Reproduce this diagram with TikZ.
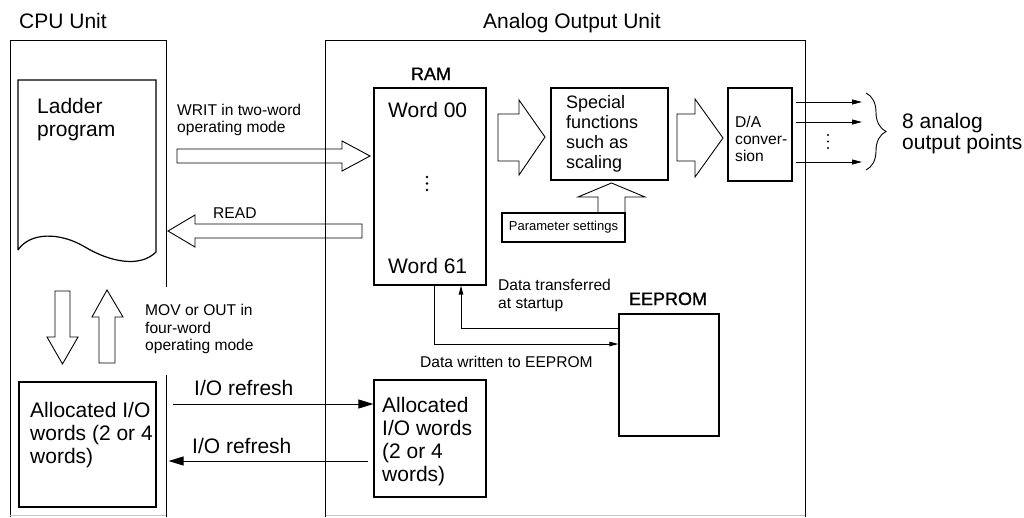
\documentclass[tikz,border=0pt]{standalone}
\usepackage{fontspec}
\setmainfont{Liberation Sans}
\newfontfamily\semibfont{Liberation Sans}[FakeBold=1.2]
\usepackage{tikz}
\usetikzlibrary{arrows.meta,positioning,calc,decorations.pathreplacing}
\tikzset{
 frame/.style={draw=black,line width=0.9pt},
 unit/.style={draw=black,line width=1.2pt,inner sep=0pt},
 fat/.style={draw=black,line width=0.9pt,line join=miter},
 big/.style={font=\fontsize{21}{23}\selectfont,inner sep=0pt,align=left},
 mid/.style={font=\fontsize{18}{20}\selectfont,inner sep=0pt,align=left},
 memlbl/.style={font=\semibfont\fontsize{18}{20}\selectfont,inner sep=0pt},
 small/.style={font=\fontsize{15.6}{17.5}\selectfont,inner sep=0pt,align=left},
 tiny/.style={font=\fontsize{13}{15}\selectfont,inner sep=0pt},
 iarr/.style={-{Triangle[length=15pt,width=9pt]},line width=1pt},
 oarr/.style={-{Triangle[length=10pt,width=5pt]},line width=0.9pt},
 darr/.style={-{Triangle[length=9pt,width=4.5pt]},line width=0.9pt}
}
\begin{document}
\begin{tikzpicture}[x=1pt,y=-1pt]
\useasboundingbox (0,0) rectangle (1024,517);
% unit frames
\draw[frame] (10,517) -- (10,40) -- (166,40) -- (166,287);
\draw[frame] (166,375) -- (166,517);
\draw[gray!45,line width=0.8pt] (10,515) -- (166,515) (325,515) -- (805,515);
\draw[frame] (325,517) -- (325,40) -- (805,40) -- (805,517);
\node[big,anchor=base west] (cputitle) at (19,28) {CPU Unit};
\node[big,anchor=base west] (aoutitle) at (483,28) {Analog Output Unit};
% ladder program sheet
\draw[unit] (18,250) -- (18,80) -- (156,80) -- (156,252)
  .. controls (140,268) and (110,262) .. (85,247)
  .. controls (60,232) and (30,232) .. (18,250);
\node[big,anchor=north west] (ladder) at (37,98) {Ladder\\program};
% memory and processing blocks
\node[unit,minimum width=112,minimum height=197] (ram) at (430,186.5) {};
\node[memlbl,anchor=base] (ramlbl) at (431,80) {RAM};
\node[big,anchor=base west] (w00) at (388,117) {Word 00};
\node[big,anchor=base west] (w61) at (388,273) {Word 61};
\fill (427,177) circle (1.3) (427,183.5) circle (1.3) (427,190) circle (1.3);
\node[unit,minimum width=117,minimum height=92] (spec) at (609.5,134) {};
\node[mid,anchor=north west] (spectxt) at (566,95) {Special\\functions\\such as\\scaling};
\node[unit,minimum width=64,minimum height=93] (da) at (760,134.5) {};
\node[small,anchor=north west,font=\fontsize{15.6}{17}\selectfont] (datxt) at (735,116) {D/A\\conver-\\sion};
\node[unit,tiny,minimum width=123,minimum height=29] (parm) at (563.5,227.5) {Parameter settings};
\node[unit,minimum width=100,minimum height=122] (eeprom) at (669,375) {};
\node[memlbl,anchor=base] (eelbl) at (668,305) {EEPROM};
\node[unit,minimum width=137,minimum height=125] (io1) at (87.5,444.5) {};
\node[big,anchor=north west] (io1txt) at (30,402) {Allocated I/O\\words (2 or 4\\words)};
\node[unit,minimum width=112,minimum height=117] (io2) at (430,438.5) {};
\node[big,anchor=north west] (io2txt) at (382,397) {Allocated\\I/O words\\(2 or 4\\words)};
% block arrows
\draw[fat] (177,149) -- (342,149) -- (342,141) -- (370,156) -- (342,171) -- (342,163) -- (177,163) -- cycle;
\node[small,anchor=north west,font=\fontsize{15.6}{17}\selectfont] (writ) at (177,104) {WRIT in two-word\\operating mode};
\draw[fat] (362,224) -- (195,224) -- (195,215) -- (168,231) -- (195,247) -- (195,238) -- (362,238) -- cycle;
\node[small,anchor=base west] (read) at (213,218) {READ};
\draw[fat] (498,114) -- (519,114) -- (519,100) -- (545,137) -- (519,175) -- (519,161) -- (498,161) -- cycle;
\draw[fat] (677,114) -- (695,114) -- (695,99) -- (723,138) -- (695,177) -- (695,161) -- (677,161) -- cycle;
\draw[fat] (598,213) -- (598,197) -- (578,197) -- (611.5,183) -- (645,197) -- (625,197) -- (625,213);
\draw[fat] (55,291) -- (55,337) -- (47,337) -- (62.5,364) -- (78,337) -- (70,337) -- (70,291) -- cycle;
\draw[fat] (99,363) -- (99,317) -- (92,317) -- (107,290) -- (123,317) -- (115,317) -- (115,363) -- cycle;
\node[small,anchor=north west] (mov) at (145,304) {MOV or OUT in\\four-word\\operating mode};
% analog outputs
\coordinate (o1) at (862,102);
\coordinate (o2) at (862,122);
\coordinate (o3) at (862,162);
\draw[oarr] ([xshift=3]da.east |- o1) -- (o1);
\draw[oarr] ([xshift=3]da.east |- o2) -- (o2);
\draw[oarr] ([xshift=3]da.east |- o3) -- (o3);
\fill (828,135) circle (1.2) (828,141.5) circle (1.2) (828,148) circle (1.2);
\draw[line width=0.9pt,decorate,decoration={brace,amplitude=20pt}] (866,93) -- (866,170);
\node[big,anchor=north west,font=\fontsize{21}{21}\selectfont] (outs) at (902,113) {8 analog\\output points};
% EEPROM transfers
\coordinate (tr) at (461,328);
\coordinate (wr) at (434,344);
\draw[darr] (eeprom.west |- tr) -- (tr) -- (ram.south -| tr);
\draw[darr] (ram.south -| wr) -- (wr) -- (eeprom.west |- wr);
\node[small,anchor=north west,font=\fontsize{15.6}{18}\selectfont] (trtxt) at (498,279) {Data transferred\\at startup};
\node[small,anchor=base west] (wrtxt) at (420,367) {Data written to EEPROM};
% I/O refresh
\coordinate (r1) at (173,404);
\coordinate (r2) at (368,461);
\draw[iarr] (r1) -- (io2.west |- r1);
\draw[iarr] (r2) -- ([xshift=12]io1.east |- r2);
\node[big,anchor=base west] (ref1) at (194,395) {I/O refresh};
\node[big,anchor=base west] (ref2) at (192,453) {I/O refresh};
\end{tikzpicture}
\end{document}
